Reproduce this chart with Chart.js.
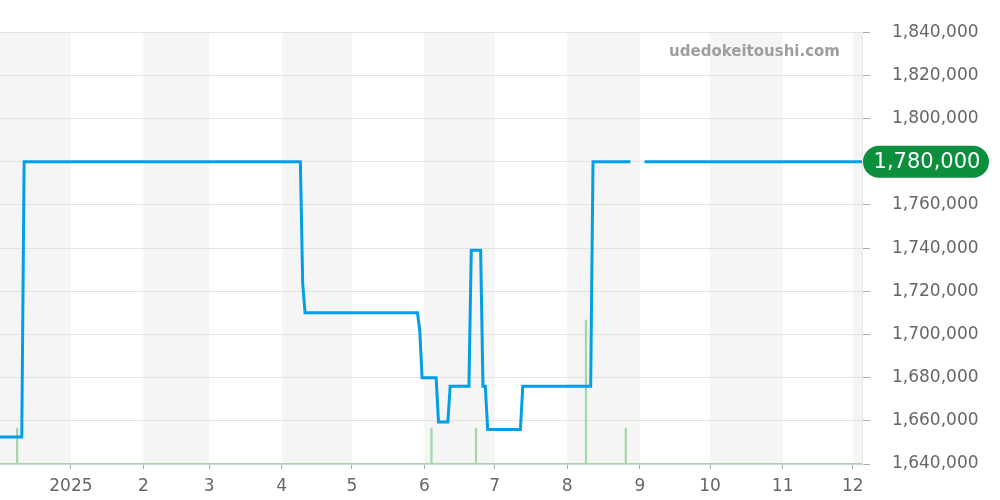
<!DOCTYPE html>
<html>
<head>
<meta charset="utf-8">
<script src="https://cdn.jsdelivr.net/npm/chart.js@4"></script>
<style>
  html, body { margin: 0; padding: 0; background: #fff; }
  #wrap { width: 1000px; height: 500px; position: relative; }
</style>
</head>
<body>
<div id="wrap"><canvas id="chart"></canvas></div>
<script>
// ---- Data (x = days since 2025-01-01) -------------------------------
const monthStarts = [-31, 0, 31, 59, 90, 120, 151, 181, 212, 243, 273, 304, 334, 365];
const monthLabels = ["", "2025", "2", "3", "4", "5", "6", "7", "8", "9", "10", "11", "12", ""];

const priceDays   = [-31, -21, -20, 98, 99, 100, 148, 149, 150, 156, 157, 161, 162, 170, 171, 175, 176, 177, 178, 192, 193, 222, 223, 239, 242, 245, 340];
const priceValues = [1652500, 1652500, 1780000, 1780000, 1723500, 1710000, 1710000, 1702000, 1680000, 1680000, 1659500, 1659500, 1676000, 1676000, 1739000, 1739000, 1676000, 1676000, 1656000, 1656000, 1676000, 1676000, 1780000, 1780000, null, 1780000, 1780000];

const volumeDays   = [-23, 154, 173, 220, 237];
const volumeCounts = [1, 1, 1, 4, 1];

const yTicks = { min: 1640000, max: 1840000, step: 20000 };
const xRange = { min: -30.3, max: 337.9 };

// ---- Colours ---------------------------------------------------------
const LINE_BLUE  = "#039fe6";
const VOL_GREEN  = "#a5d6a7";
const BAND_GREY  = "#f5f5f5";
const GRID_GREY  = "#e2e2e2";
const BADGE_GRN  = "#0b8f3c";
const FONT       = "'DejaVu Sans', sans-serif";

// alternating month bands, drawn under the grid
const bandPlugin = {
  id: "bands",
  beforeDraw(chart) {
    const { ctx, chartArea: a, scales: { x } } = chart;
    ctx.save();
    ctx.fillStyle = BAND_GREY;
    for (let i = 0; i < monthStarts.length - 1; i += 2) {
      const x0 = Math.max(a.left, x.getPixelForValue(monthStarts[i]));
      const x1 = Math.min(a.right, x.getPixelForValue(monthStarts[i + 1]));
      if (x1 > x0) ctx.fillRect(x0, a.top, x1 - x0, a.bottom - a.top);
    }
    ctx.restore();
  },
};

// watermark + last-price badge
const overlayPlugin = {
  id: "overlay",
  afterDraw(chart) {
    const { ctx, chartArea: a, scales: { y } } = chart;
    ctx.save();
    ctx.font = "bold 15px " + FONT;
    ctx.fillStyle = "#9e9e9e";
    ctx.textAlign = "right";
    ctx.textBaseline = "middle";
    ctx.fillText("udedokeitoushi.com", 840, 52);

    const last = priceValues.filter((v) => v !== null).slice(-1)[0];
    const py = y.getPixelForValue(last);
    const bx = a.right + 1, bw = 989 - bx, bh = 32, r = 16;
    ctx.fillStyle = BADGE_GRN;
    ctx.beginPath();
    ctx.roundRect(bx, py - bh / 2, bw, bh, r);
    ctx.fill();
    ctx.fillStyle = "#fff";
    ctx.font = "21px " + FONT;
    ctx.textAlign = "center";
    ctx.fillText(last.toLocaleString("en-US"), bx + bw / 2 + 1, py + 1);
    ctx.restore();
  },
};

new Chart(document.getElementById("chart"), {
  data: {
    datasets: [
      {
        type: "line",
        label: "price",
        data: priceDays.map((d, i) => ({ x: d, y: priceValues[i] })),
        borderColor: LINE_BLUE,
        borderWidth: 3,
        pointRadius: 0,
        tension: 0,
        spanGaps: false,
        yAxisID: "y",
        order: 1,
      },
      {
        type: "bar",
        label: "volume",
        data: volumeDays.map((d, i) => ({ x: d, y: volumeCounts[i] })),
        backgroundColor: VOL_GREEN,
        barThickness: 1.6,
        yAxisID: "yVol",
        order: 2,
      },
    ],
  },
  options: {
    responsive: true,
    maintainAspectRatio: false,
    animation: false,
    layout: { padding: { top: 31, left: 0, right: 0, bottom: 0 } },
    plugins: { legend: { display: false }, tooltip: { enabled: false } },
    scales: {
      x: {
        type: "linear",
        offset: false,
        min: xRange.min,
        max: xRange.max,
        afterBuildTicks: (s) => { s.ticks = monthStarts.slice(1, -1).map((v) => ({ value: v })); },
        afterFit: (s) => { s.height = 36; },
        ticks: {
          color: "#666",
          font: { family: FONT, size: 17 },
          padding: 7,
          maxRotation: 0,
          autoSkip: false,
          callback: (v) => monthLabels[monthStarts.indexOf(v)],
        },
        grid: { offset: false, drawOnChartArea: false, drawTicks: true, tickLength: 5, tickColor: "#aaa" },
        border: { color: VOL_GREEN, width: 1.5, dash: [1.5, 1] },
      },
      y: {
        position: "right",
        min: yTicks.min,
        max: yTicks.max,
        afterFit: (s) => { s.width = 138; },
        ticks: {
          stepSize: yTicks.step,
          color: "#666",
          font: { family: FONT, size: 17 },
          padding: 22,
          callback: (v) => v.toLocaleString("en-US"),
        },
        grid: { color: GRID_GREY, tickLength: 8, tickColor: "#aaa" },
        border: { color: "#e6e6e6" },
      },
      yVol: { display: false, min: 0, max: 12 },
    },
  },
  plugins: [bandPlugin, overlayPlugin],
});
</script>
</body>
</html>
